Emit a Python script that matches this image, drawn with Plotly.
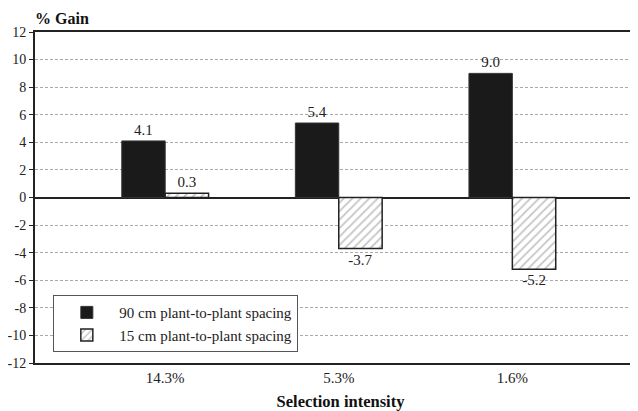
import plotly.graph_objects as go

categories = ["14.3%", "5.3%", "1.6%"]
spacing90 = [4.1, 5.4, 9.0]
spacing15 = [0.3, -3.7, -5.2]
series_names = ["90 cm plant-to-plant spacing", "15 cm plant-to-plant spacing"]
y_ticks = list(range(-12, 13, 2))
y_tick_text = [str(v) for v in y_ticks]

FONT = "Liberation Serif, Times New Roman, serif"

fig = go.Figure()
fig.add_trace(go.Bar(
    x=categories, y=spacing90, name=series_names[0],
    marker=dict(color="#1a1a1a", line=dict(color="#333333", width=1)),
    texttemplate="%{y:.1f}", textposition="outside",
    textfont=dict(family=FONT, size=15, color="#222"), cliponaxis=False,
))
fig.add_trace(go.Bar(
    x=categories, y=spacing15, name=series_names[1],
    marker=dict(color="white", line=dict(color="#222222", width=1.5),
                pattern=dict(shape="/", fgcolor="#8a8a8a", bgcolor="white", size=6, solidity=0.3)),
    texttemplate="%{y:.1f}", textposition="outside",
    textfont=dict(family=FONT, size=15, color="#222"), cliponaxis=False,
))

fig.update_layout(
    width=638, height=411,
    margin=dict(l=27, r=0, t=24, b=56, autoexpand=False),
    paper_bgcolor="white", plot_bgcolor="white",
    barmode="group", bargap=0.5, bargroupgap=0,
    font=dict(family=FONT, size=14, color="#222"),
    showlegend=True,
    legend=dict(x=0.03, y=0.205, xanchor="left", yanchor="top",
                bgcolor="white", bordercolor="#555", borderwidth=1,
                font=dict(family=FONT, size=15, color="#222"),
                itemwidth=55, tracegroupgap=0,
                entrywidth=265, entrywidthmode="pixels"),
    xaxis=dict(range=[-0.75, 2.77], showline=True, linecolor="#222", linewidth=2,
               mirror=True, ticks="", showgrid=False, automargin=False,
               tickfont=dict(family=FONT, size=15, color="#222"),
               title=dict(text="<b>Selection intensity</b>", standoff=10,
                          font=dict(family=FONT, size=16.5, color="#111"))),
    yaxis=dict(range=[-12, 12], tickvals=y_ticks, ticktext=y_tick_text,
               showline=True, linecolor="#222",
               linewidth=2, ticks="outside", ticklen=4, tickcolor="#222", automargin=False,
               ticklabelstandoff=0,
               showgrid=True, gridcolor="#aaaaaa", griddash="3px,2px", gridwidth=1,
               zeroline=True, zerolinecolor="#222", zerolinewidth=1.5,
               tickfont=dict(family=FONT, size=14, color="#222")),
    annotations=[dict(text="<b>% Gain</b>", xref="paper", yref="paper",
                      x=-0.003, y=1, xanchor="left", yanchor="bottom", yshift=3,
                      showarrow=False, font=dict(family=FONT, size=16, color="#111"))],
)

fig.write_html("out.html")
